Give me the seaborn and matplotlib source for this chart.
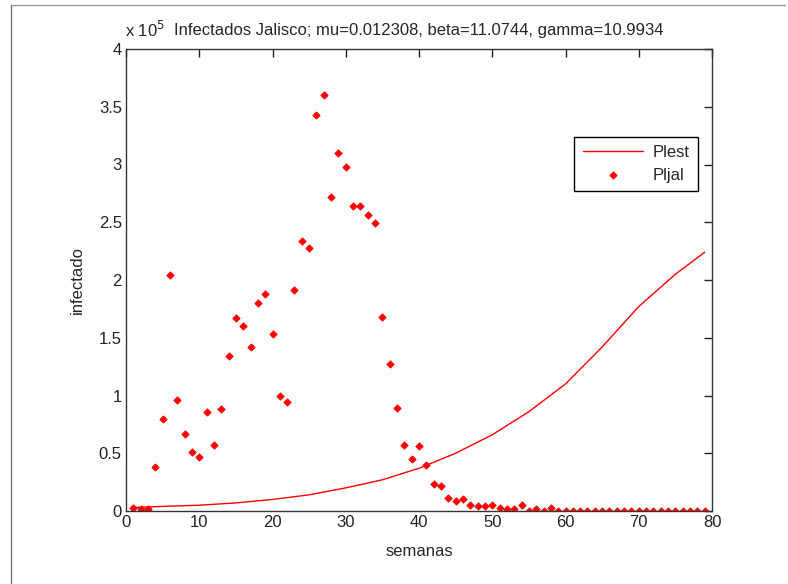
import numpy as np
import pandas as pd
import matplotlib
matplotlib.use("Agg")
import matplotlib.pyplot as plt
from matplotlib.lines import Line2D
import seaborn as sns

# observed weekly infected in Jalisco (units of 1e5)
semanas = list(range(1, 80))
pjal = [0.03, 0.02, 0.02, 0.38, 0.80, 2.04, 0.96, 0.67, 0.51, 0.47,
        0.86, 0.57, 0.88, 1.34, 1.67, 1.60, 1.42, 1.80, 1.88, 1.53,
        1.00, 0.94, 1.91, 2.34, 2.28, 3.43, 3.60, 2.72, 3.10, 2.98,
        2.64, 2.64, 2.56, 2.49, 1.68, 1.27, 0.89, 0.57, 0.45, 0.56,
        0.40, 0.23, 0.22, 0.11, 0.09, 0.10, 0.05, 0.04, 0.04, 0.05,
        0.03, 0.02, 0.02, 0.05, 0.00, 0.02, 0.00, 0.03, 0.00, 0.00,
        0.00, 0.00, 0.00, 0.00, 0.00, 0.00, 0.00, 0.00, 0.00, 0.00,
        0.00, 0.00, 0.00, 0.00, 0.00, 0.00, 0.00, 0.00, 0.00]

# model estimate (units of 1e5)
sem_est = [1, 5, 10, 15, 20, 25, 30, 35, 40, 45, 50, 55, 60, 65, 70, 75, 79]
plest = [0.03, 0.04, 0.05, 0.07, 0.10, 0.14, 0.20, 0.27, 0.37, 0.50,
         0.66, 0.86, 1.10, 1.42, 1.77, 2.05, 2.24]

titulo = "Infectados Jalisco; mu=0.012308, beta=11.0744, gamma=10.9934"

sns.set_style("white")
plt.rcParams['font.family'] = ['Liberation Sans', 'DejaVu Sans']
fs = 12

obs = pd.DataFrame({'semanas': semanas, 'infectado': pjal})
est = pd.DataFrame({'semanas': sem_est, 'infectado': plest})

fig = plt.figure(figsize=(7.88, 5.84), dpi=100)
ax = fig.add_axes([126 / 788, 1 - 511 / 584, 586 / 788, 462 / 584])

sns.lineplot(data=est, x='semanas', y='infectado', color='red', linewidth=1,
             label='Plest', ax=ax)
sns.scatterplot(data=obs, x='semanas', y='infectado', color='red', marker='D',
                s=14, linewidth=0.6, edgecolor='red', label='Pljal', ax=ax)

ax.set_xlim(0, 80)
ax.set_ylim(0, 4)
ax.set_xticks(range(0, 81, 10))
ax.set_yticks(np.arange(0, 4.01, 0.5))
ax.set_yticklabels(['0', '0.5', '1', '1.5', '2', '2.5', '3', '3.5', '4'])
ax.tick_params(direction='in', length=6, width=1, top=True, right=True,
               labelsize=fs, colors='#222222', pad=3)
for s in ax.spines.values():
    s.set_color('#333333')
    s.set_linewidth(1)

ax.set_xlabel('semanas', fontsize=fs, labelpad=10)
ax.set_ylabel('infectado', fontsize=fs, labelpad=10)
ax.set_title(titulo, fontsize=fs, pad=10)
ax.text(-0.002, 1.02, r'x 10$^5$', transform=ax.transAxes, fontsize=fs,
        ha='left', va='bottom')

leg = ax.legend(loc='upper right', bbox_to_anchor=(0.976, 0.81),
                borderaxespad=0, fancybox=False, framealpha=1,
                edgecolor='black', fontsize=fs, handlelength=3.6,
                borderpad=0.5, labelspacing=0.45, handletextpad=0.6)
leg.get_frame().set_linewidth(1)

# screenshot frame (top and left edges)
fig.add_artist(Line2D([11 / 788, 785 / 788], [1 - 5 / 584, 1 - 5 / 584],
                      color='#999999', linewidth=1))
fig.add_artist(Line2D([11 / 788, 11 / 788], [0, 1 - 5 / 584],
                      color='#777777', linewidth=1))

fig.savefig('out.png', dpi=100)
